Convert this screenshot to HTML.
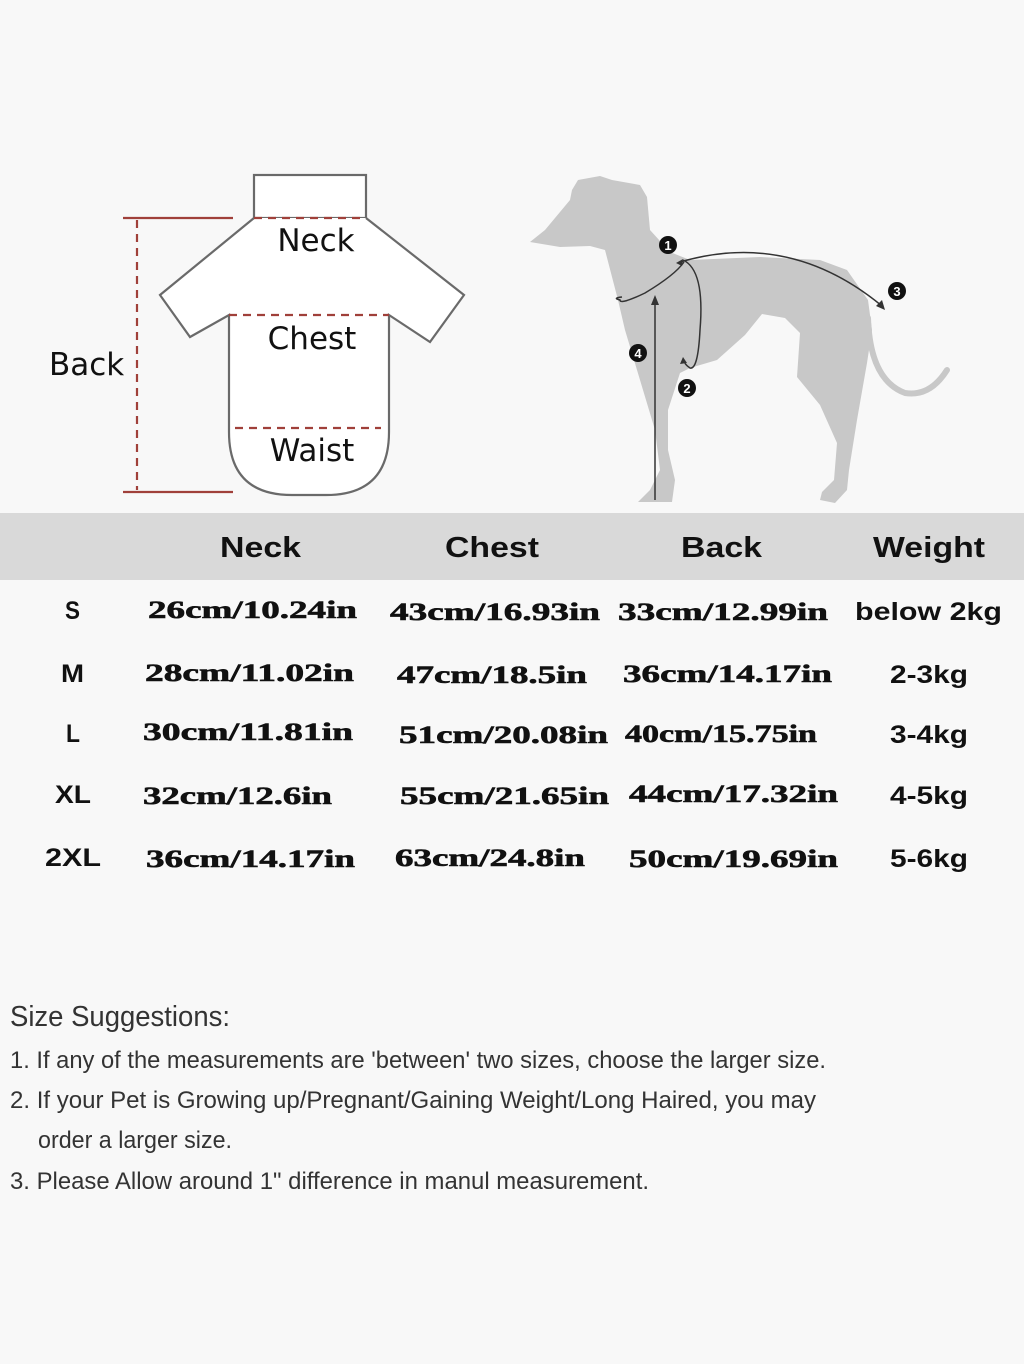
<!DOCTYPE html>
<html><head><meta charset="utf-8"><style>
html,body{margin:0;padding:0;background:#f8f8f8;}
svg{display:block;}
</style></head><body>
<svg width="1024" height="1364" viewBox="0 0 1024 1364" xmlns="http://www.w3.org/2000/svg">
<rect width="1024" height="1364" fill="#f8f8f8"/>
<!-- Shirt -->
<g fill="none" stroke="#6a6a6a" stroke-width="2.2">
<rect x="254" y="175" width="112" height="43" fill="#fff"/>
<path d="M254 218 L160 295 L190 337 L229 315 L229 432 Q229 495 292 495 L326 495 Q389 495 389 432 L389 315 L430 342 L464 295 L366 218" fill="#fff"/>
</g>
<g stroke="#a0403a" stroke-width="2.2" fill="none">
<line x1="254" y1="218" x2="366" y2="218" stroke-dasharray="8,6"/>
<line x1="229" y1="315" x2="389" y2="315" stroke-dasharray="8,6"/>
<line x1="235" y1="428" x2="381" y2="428" stroke-dasharray="8,6"/>
<line x1="123" y1="218" x2="233" y2="218"/>
<line x1="123" y1="492" x2="233" y2="492"/>
<line x1="137" y1="220" x2="137" y2="490" stroke-dasharray="8,6"/>
</g>
<g font-family="'DejaVu Sans','Liberation Sans',sans-serif" font-size="31" fill="#111">
<text x="316" y="251" text-anchor="middle">Neck</text>
<text x="312" y="349" text-anchor="middle">Chest</text>
<text x="312" y="461" text-anchor="middle">Waist</text>
<text x="49" y="375">Back</text>
</g>
<!-- Dog -->
<path fill="#c8c8c8" d="M530 242 L545 230 L570 200 L572 190 L578 180 L600 176 L612 180 L640 185 L647 197 L650 230 L670 252 L690 260 L760 257 L820 260 L847 270 L868 300 L872 330 L867 363 L857 420 L849 470 L847 490 L835 503 L820 500 L822 492 L834 480 L837 443 L820 405 L797 377 L800 333 L785 318 L762 314 L745 335 L717 360 L690 368 L680 373 L668 410 L668 450 L675 480 L672 502 L638 502 L650 490 L660 470 L655 430 L640 380 L625 330 L618 300 L605 250 L590 246 L560 247 Z"/>
<path d="M868 318 Q870 380 905 393 Q930 397 947 370" fill="none" stroke="#c8c8c8" stroke-width="6" stroke-linecap="round"/>
<g fill="none" stroke="#333" stroke-width="1.5">
<path d="M680 262 Q790 230 882 306"/>
<path d="M684 262 Q675 275 645 293 Q620 305 620 300 Q612 298 622 297"/>
<path d="M683 260 Q705 270 700 330 Q698 370 690 368 Q684 364 684 360"/>
<line x1="655" y1="500" x2="655" y2="300"/>
</g>
<g fill="#333">
<polygon points="655,295 651,305 659,305"/>
<polygon points="885,310 876,306 882,300"/>
<polygon points="676,263 683,259 682,266"/>
<polygon points="683,357 680,364 687,363"/>
</g>
<g fill="#111">
<circle cx="668" cy="245" r="9"/><circle cx="687" cy="388" r="9"/><circle cx="897" cy="291" r="9"/><circle cx="638" cy="353" r="9"/>
</g>
<g fill="#fff" font-family="'Liberation Sans',sans-serif" font-weight="bold" font-size="13" text-anchor="middle">
<text x="668" y="250">1</text><text x="687" y="393">2</text><text x="897" y="296">3</text><text x="638" y="358">4</text>
</g>
<!-- Table -->
<rect x="0" y="513" width="1024" height="67" fill="#d9d9d9"/>
<g font-family="'Liberation Sans',sans-serif" font-weight="bold" font-size="29" fill="#111">
<text x="220" y="557" textLength="81" lengthAdjust="spacingAndGlyphs">Neck</text>
<text x="445" y="557" textLength="94" lengthAdjust="spacingAndGlyphs">Chest</text>
<text x="681" y="557" textLength="81" lengthAdjust="spacingAndGlyphs">Back</text>
<text x="873" y="557" textLength="112" lengthAdjust="spacingAndGlyphs">Weight</text>
</g>
<g font-family="'Liberation Sans',sans-serif" font-weight="bold" font-size="25" fill="#111">
<text x="65" y="619" textLength="15" lengthAdjust="spacingAndGlyphs">S</text>
<text x="61" y="682" textLength="23" lengthAdjust="spacingAndGlyphs">M</text>
<text x="66" y="742" textLength="14" lengthAdjust="spacingAndGlyphs">L</text>
<text x="55" y="803" textLength="36" lengthAdjust="spacingAndGlyphs">XL</text>
<text x="45" y="866" textLength="56" lengthAdjust="spacingAndGlyphs">2XL</text>
<text x="855" y="620" textLength="147" lengthAdjust="spacingAndGlyphs">below 2kg</text>
<text x="890" y="683" textLength="78" lengthAdjust="spacingAndGlyphs">2-3kg</text>
<text x="890" y="743" textLength="78" lengthAdjust="spacingAndGlyphs">3-4kg</text>
<text x="890" y="804" textLength="78" lengthAdjust="spacingAndGlyphs">4-5kg</text>
<text x="890" y="867" textLength="78" lengthAdjust="spacingAndGlyphs">5-6kg</text>
</g>
<g font-family="'Liberation Serif',serif" font-weight="bold" font-size="25" fill="#111" stroke="#111" stroke-width="0.6">
<text x="148" y="618" textLength="209" lengthAdjust="spacingAndGlyphs">26cm/10.24in</text>
<text x="390" y="620" textLength="210" lengthAdjust="spacingAndGlyphs">43cm/16.93in</text>
<text x="618" y="620" textLength="210" lengthAdjust="spacingAndGlyphs">33cm/12.99in</text>
<text x="145" y="681" textLength="209" lengthAdjust="spacingAndGlyphs">28cm/11.02in</text>
<text x="397" y="683" textLength="190" lengthAdjust="spacingAndGlyphs">47cm/18.5in</text>
<text x="623" y="682" textLength="209" lengthAdjust="spacingAndGlyphs">36cm/14.17in</text>
<text x="143" y="740" textLength="210" lengthAdjust="spacingAndGlyphs">30cm/11.81in</text>
<text x="399" y="743" textLength="209" lengthAdjust="spacingAndGlyphs">51cm/20.08in</text>
<text x="625" y="742" textLength="192" lengthAdjust="spacingAndGlyphs">40cm/15.75in</text>
<text x="143" y="804" textLength="189" lengthAdjust="spacingAndGlyphs">32cm/12.6in</text>
<text x="400" y="804" textLength="209" lengthAdjust="spacingAndGlyphs">55cm/21.65in</text>
<text x="629" y="802" textLength="209" lengthAdjust="spacingAndGlyphs">44cm/17.32in</text>
<text x="146" y="867" textLength="209" lengthAdjust="spacingAndGlyphs">36cm/14.17in</text>
<text x="395" y="866" textLength="190" lengthAdjust="spacingAndGlyphs">63cm/24.8in</text>
<text x="629" y="867" textLength="209" lengthAdjust="spacingAndGlyphs">50cm/19.69in</text>
</g>
<!-- Footer -->
<g font-family="'Liberation Sans',sans-serif" fill="#333">
<text x="10" y="1026" font-size="29" textLength="220" lengthAdjust="spacingAndGlyphs">Size Suggestions:</text>
<text x="10" y="1068" font-size="24" textLength="816" lengthAdjust="spacingAndGlyphs">1. If any of the measurements are 'between' two sizes, choose the larger size.</text>
<text x="10" y="1108" font-size="24" textLength="806" lengthAdjust="spacingAndGlyphs">2. If your Pet is Growing up/Pregnant/Gaining Weight/Long Haired, you may</text>
<text x="38" y="1148" font-size="24" textLength="194" lengthAdjust="spacingAndGlyphs">order a larger size.</text>
<text x="10" y="1189" font-size="24" textLength="639" lengthAdjust="spacingAndGlyphs">3. Please Allow around 1" difference in manul measurement.</text>
</g>
</svg>
</body></html>
